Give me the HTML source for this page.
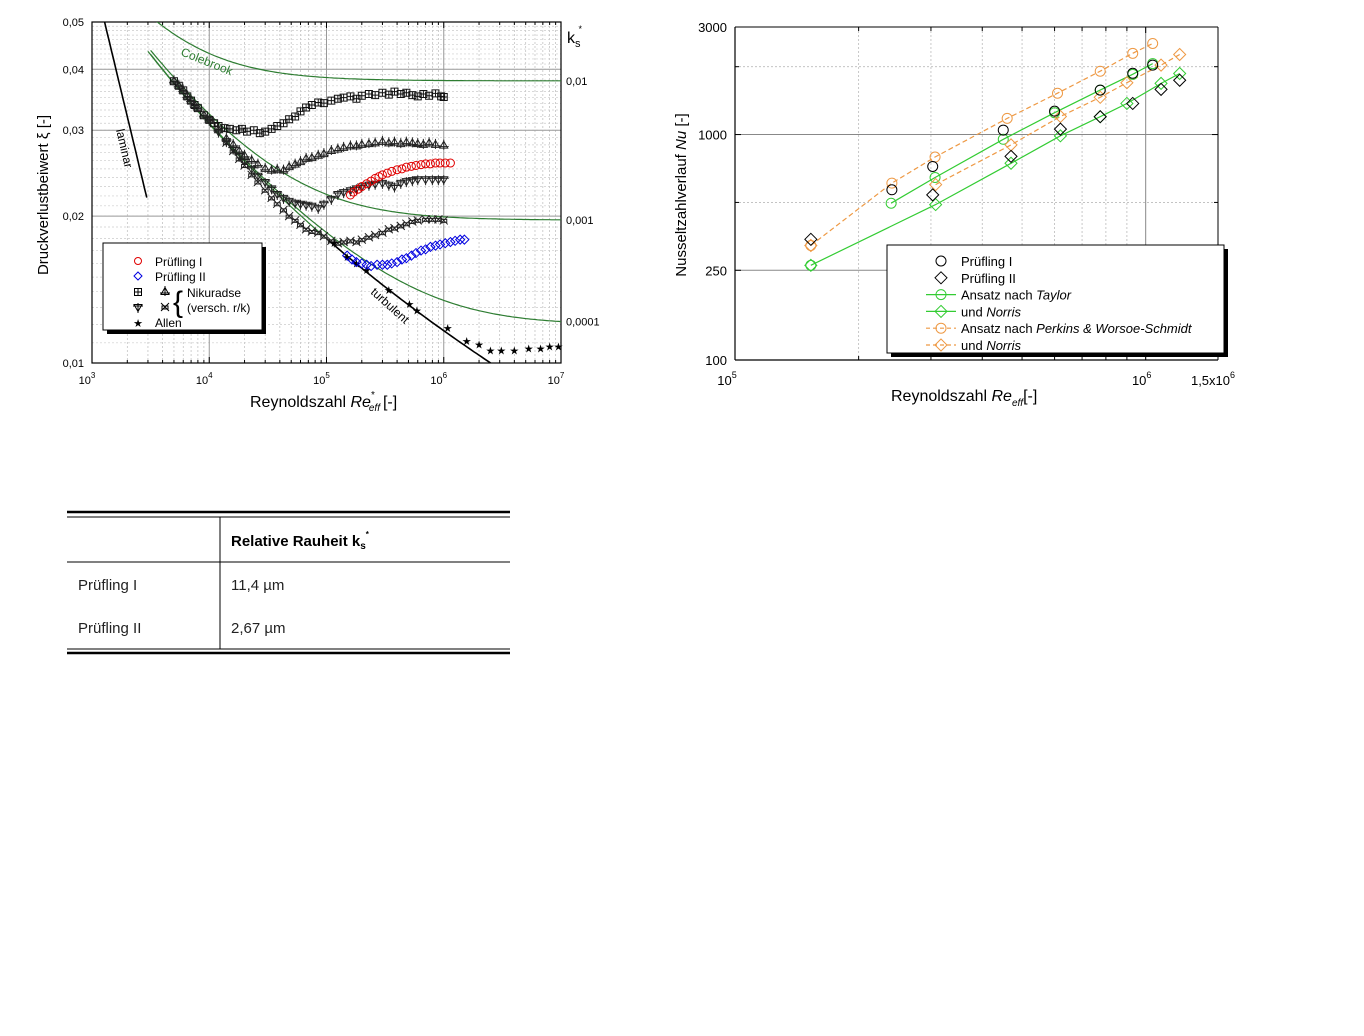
<!DOCTYPE html>
<html><head><meta charset="utf-8"><style>
html,body{margin:0;padding:0;background:#fff;}
svg{display:block;font-family:"Liberation Sans",Arial,sans-serif;}
</style></head><body>
<svg id="root" width="1364" height="1036" viewBox="0 0 1364 1036" xmlns="http://www.w3.org/2000/svg">
<g id="left"></g>
<g id="right"></g>
<g id="table">
  <line x1="67" y1="512" x2="510" y2="512" stroke="#000" stroke-width="2.5"/>
  <line x1="67" y1="517" x2="510" y2="517" stroke="#000" stroke-width="1"/>
  <line x1="67" y1="562" x2="510" y2="562" stroke="#000" stroke-width="1"/>
  <line x1="220" y1="517" x2="220" y2="649" stroke="#000" stroke-width="1"/>
  <line x1="67" y1="649" x2="510" y2="649" stroke="#000" stroke-width="1"/>
  <line x1="67" y1="653" x2="510" y2="653" stroke="#000" stroke-width="2.5"/>
  <text x="231" y="546" font-size="15" font-weight="bold">Relative Rauheit k<tspan font-size="10" dy="3">s</tspan><tspan font-size="8" dy="-12">*</tspan></text>
  <text x="78" y="590" font-size="15" fill="#222">Prüfling I</text>
  <text x="231" y="590" font-size="15" fill="#222">11,4 µm</text>
  <text x="78" y="633" font-size="15" fill="#222">Prüfling II</text>
  <text x="231" y="633" font-size="15" fill="#222">2,67 µm</text>
</g>
</svg>
<script>
// ===== Left chart data =====
const sqRe=[5e3,5.5e3,6e3,6.5e3,7e3,7.5e3,8e3,9e3,1e4,1.1e4,1.2e4,1.35e4,1.5e4,1.7e4,1.9e4,2.1e4,2.4e4,2.7e4,3e4,3.4e4,3.8e4,4.3e4,4.8e4,5.4e4,6e4,6.7e4,7.5e4,8.5e4,9.5e4,1.1e5,1.25e5,1.4e5,1.6e5,1.8e5,2e5,2.3e5,2.6e5,3e5,3.4e5,3.8e5,4.3e5,4.8e5,5.4e5,6e5,6.7e5,7.5e5,8.5e5,9.5e5,1e6];
const sqXi=[0.0378,0.037,0.0362,0.0352,0.0345,0.0338,0.0333,0.0322,0.0315,0.031,0.0306,0.0303,0.0302,0.030,0.0302,0.0298,0.030,0.0296,0.0298,0.0302,0.0306,0.031,0.0316,0.032,0.0328,0.0334,0.0338,0.0342,0.0341,0.0345,0.0348,0.035,0.0352,0.0348,0.0353,0.0356,0.0354,0.0358,0.0355,0.036,0.0356,0.0358,0.0354,0.0352,0.0356,0.0353,0.0357,0.0352,0.0351];
const upRe=[1e4,1.2e4,1.4e4,1.6e4,1.8e4,2e4,2.3e4,2.6e4,3e4,3.4e4,3.8e4,4.3e4,4.8e4,5.4e4,6e4,6.7e4,7.5e4,8.5e4,9.5e4,1.1e5,1.25e5,1.4e5,1.6e5,1.8e5,2e5,2.3e5,2.6e5,3e5,3.4e5,3.8e5,4.3e5,4.8e5,5.4e5,6e5,6.7e5,7.5e5,8.5e5,1e6];
const upXi=[0.0315,0.030,0.0288,0.028,0.0272,0.0266,0.026,0.0255,0.025,0.0248,0.0249,0.0248,0.0252,0.0255,0.0258,0.0262,0.0263,0.0266,0.0268,0.0272,0.0274,0.0276,0.0278,0.0278,0.028,0.0281,0.0282,0.0284,0.0282,0.0283,0.0281,0.0283,0.0282,0.0281,0.028,0.0282,0.028,0.0279];
const dnRe=[1e4,1.2e4,1.4e4,1.6e4,1.8e4,2e4,2.3e4,2.6e4,3e4,3.4e4,3.8e4,4.3e4,4.8e4,5.4e4,6e4,6.7e4,7.5e4,8.5e4,9.5e4,1.1e5,1.25e5,1.4e5,1.6e5,1.8e5,2e5,2.3e5,2.6e5,3e5,3.4e5,3.8e5,4.3e5,4.8e5,5.4e5,6e5,7e5,8e5,9e5,1e6];
const dnXi=[0.0315,0.0298,0.0285,0.0275,0.0266,0.026,0.025,0.0242,0.0235,0.0228,0.0222,0.0218,0.0215,0.0213,0.0212,0.0211,0.021,0.0208,0.0212,0.0217,0.0222,0.0224,0.0226,0.0228,0.023,0.0232,0.0233,0.0234,0.0232,0.023,0.0234,0.0236,0.0237,0.0238,0.0238,0.0238,0.0238,0.0238];
const xsRe=[1.4e4,1.6e4,1.8e4,2e4,2.3e4,2.6e4,3e4,3.4e4,3.8e4,4.3e4,4.8e4,5.4e4,6e4,6.7e4,7.5e4,8.5e4,9.5e4,1.1e5,1.25e5,1.4e5,1.6e5,1.8e5,2e5,2.3e5,2.6e5,3e5,3.4e5,3.8e5,4.3e5,4.8e5,5.4e5,6e5,7e5,8e5,9e5,1e6];
const xsXi=[0.0283,0.0272,0.0262,0.0254,0.0243,0.0235,0.0226,0.0218,0.0212,0.0206,0.02,0.0196,0.0192,0.0188,0.0186,0.0185,0.0182,0.0178,0.0176,0.0177,0.0178,0.0177,0.0179,0.0181,0.0183,0.0185,0.0188,0.0189,0.0191,0.0193,0.0195,0.0196,0.0197,0.0197,0.0197,0.0196];
const alRe=[1.16e5,1.5e5,1.8e5,2.2e5,3.4e5,5.1e5,5.9e5,1.08e6,1.57e6,2.0e6,2.5e6,3.1e6,4e6,5.3e6,6.7e6,8e6,9.5e6];
const alXi=[0.0176,0.0165,0.016,0.0155,0.0141,0.0132,0.0128,0.0118,0.0111,0.0109,0.0106,0.0106,0.0106,0.0107,0.0107,0.0108,0.0108];
const p1Re=[1.6e5,1.7e5,1.85e5,2e5,2.2e5,2.4e5,2.6e5,2.8e5,3e5,3.3e5,3.6e5,4e5,4.4e5,4.8e5,5.3e5,5.8e5,6.4e5,7e5,7.7e5,8.5e5,9.3e5,1.03e6,1.14e6];
const p1Xi=[0.0221,0.0224,0.0227,0.023,0.0233,0.0236,0.0239,0.0241,0.0243,0.0245,0.0247,0.0249,0.025,0.0252,0.0253,0.0254,0.0255,0.0256,0.0256,0.0257,0.0257,0.0257,0.0257];
const p2Re=[1.5e5,1.65e5,1.8e5,2e5,2.2e5,2.4e5,2.7e5,3e5,3.3e5,3.6e5,4e5,4.4e5,4.8e5,5.3e5,5.8e5,6.4e5,7e5,7.7e5,8.5e5,9.3e5,1.03e6,1.14e6,1.25e6,1.38e6,1.5e6];
const p2Xi=[0.0166,0.0163,0.0161,0.016,0.0159,0.0158,0.0159,0.0159,0.0159,0.016,0.0161,0.0163,0.0164,0.0166,0.0168,0.017,0.0171,0.0173,0.0174,0.0175,0.0176,0.0177,0.0178,0.0179,0.0179];
const ksVals=[0.01,0.001,0.0001];
const ksLabels=["0,01","0,001","0,0001"];
const xTickExp=[3,4,5,6,7];
const yTickVals=[0.01,0.02,0.03,0.04,0.05];
const yTickLabels=["0,01","0,02","0,03","0,04","0,05"];

// ===== Right chart data =====
const tayRe=[1.53e5,2.4e5,3.07e5,4.5e5,6.0e5,7.75e5,9.3e5,1.04e6];
const tayNu=[263,496,645,953,1250,1575,1850,2065];
const norGRe=[1.53e5,3.08e5,4.7e5,6.2e5,7.75e5,9e5,1.09e6,1.21e6];
const norGNu=[263,489,746,987,1200,1374,1687,1866];
const pwsRe=[1.53e5,2.41e5,3.07e5,4.6e5,6.1e5,7.75e5,9.3e5,1.04e6];
const pwsNu=[322,609,795,1180,1525,1910,2293,2535];
const norORe=[1.53e5,3.08e5,4.7e5,6.2e5,7.75e5,9e5,1.09e6,1.21e6];
const norONu=[322,600,900,1203,1463,1698,2032,2265];
const r1Re=[2.41e5,3.03e5,4.5e5,6e5,7.75e5,9.3e5,1.04e6];
const r1Nu=[569,722,1047,1270,1575,1870,2033];
const r2Re=[1.53e5,3.03e5,4.7e5,6.2e5,7.75e5,9.3e5,1.09e6,1.21e6];
const r2Nu=[343,540,800,1057,1200,1374,1586,1741];

const NS="http://www.w3.org/2000/svg";
function mk(tag,attrs,parent){const e=document.createElementNS(NS,tag);for(const k in attrs)e.setAttribute(k,attrs[k]);parent.appendChild(e);return e;}
const L=document.getElementById('left'), R=document.getElementById('right');
const LX0=92,LX1=561,LY0=22,LY1=363;
const lx=re=>LX0+(Math.log10(re)-3)*(LX1-LX0)/4;
const ly=v=>LY1-(Math.log10(v)+2)*(LY1-LY0)/Math.log10(5);
const RX0=735,RX1=1218,RY0=27,RY1=360;
const rx=re=>RX0+(Math.log10(re)-5)*(RX1-RX0)/Math.log10(15);
const ry=v=>RY1-(Math.log10(v)-2)*(RY1-RY0)/Math.log10(30);

// ---- Left grid
for(let d=3;d<7;d++){for(let m=2;m<=9;m++){const x=lx(m*Math.pow(10,d));mk('line',{x1:x,y1:LY0,x2:x,y2:LY1,stroke:'#bbb','stroke-width':0.7,'stroke-dasharray':'2,2'},L);}}
for(let v=0.011;v<0.0495;v+=0.001){const y=ly(v);mk('line',{x1:LX0,y1:y,x2:LX1,y2:y,stroke:'#ccc','stroke-width':0.7,'stroke-dasharray':'2,2'},L);}
xTickExp.forEach(e=>{const x=lx(Math.pow(10,e));const g=mk('line',{x1:x,y1:LY0,x2:x,y2:LY1,stroke:'#999','stroke-width':1},L);


const t=mk('text',{x:x-5,y:384,'font-size':11,'text-anchor':'middle'},L);t.textContent='10';


const s=mk('tspan',{'font-size':8,dy:-6},t);s.textContent=String(e);});
yTickVals.forEach((v,i)=>{const y=ly(v);mk('line',{x1:LX0,y1:y,x2:LX1,y2:y,stroke:'#999','stroke-width':1},L);
const t=mk('text',{x:84,y:y+4,'font-size':11,'text-anchor':'end'},L);t.textContent=yTickLabels[i];

});
mk('rect',{x:LX0,y:LY0,width:LX1-LX0,height:LY1-LY0,fill:'none',stroke:'#000','stroke-width':1.2},L);
for(let d=3;d<7;d++){for(let m=1;m<=9;m++){const x=lx(m*Math.pow(10,d));const h=m==1?6:3;mk('line',{x1:x,y1:LY1,x2:x,y2:LY1-h,stroke:'#000'},L);mk('line',{x1:x,y1:LY0,x2:x,y2:LY0+h,stroke:'#000'},L);}}

// ---- Left curves
function colebrook(re,ks){let lam=0.02;for(let i=0;i<60;i++){const r=-2*Math.log10(ks/3.71+2.51/(re*Math.sqrt(lam)));lam=1/(r*r);}return lam;}
function smooth(re){let lam=0.02;for(let i=0;i<60;i++){const r=2*Math.log10(re*Math.sqrt(lam))-0.8;lam=1/(r*r);}return lam;}
const defs=mk('defs',{},L);const cp=mk('clipPath',{id:'lclip'},defs);mk('rect',{x:LX0,y:LY0,width:LX1-LX0,height:LY1-LY0},cp);
const curves=mk('g',{'clip-path':'url(#lclip)'},L);
ksVals.forEach((ks,i)=>{let d='';for(let e=3.5;e<=7.001;e+=0.02){const re=Math.pow(10,e);const v=colebrook(re,ks);d+=(d?'L':'M')+lx(re).toFixed(1)+','+ly(v).toFixed(1);}
const p=mk('path',{d:d,fill:'none',stroke:'#2e7d32','stroke-width':1.2},curves);


const t=mk('text',{x:566,y:ly(colebrook(1e7,ks))+4,'font-size':11},L);t.textContent=ksLabels[i];

});
{let d='';for(let e=Math.log10(3000);e<=5.0;e+=0.02){const re=Math.pow(10,e);d+=(d?'L':'M')+lx(re).toFixed(1)+','+ly(smooth(re)).toFixed(1);}
const p=mk('path',{d:d,fill:'none',stroke:'#2e7d32','stroke-width':1.2},curves);


let d2='';for(let e=5;e<=6.5;e+=0.02){const re=Math.pow(10,e);d2+=(d2?'L':'M')+lx(re).toFixed(1)+','+ly(smooth(re)).toFixed(1);}
const p2=mk('path',{d:d2,fill:'none',stroke:'#000','stroke-width':1.6},curves);


let d3='';for(let e=Math.log10(1280);e<=Math.log10(3000);e+=0.02){const re=Math.pow(10,e);d3+=(d3?'L':'M')+lx(re).toFixed(1)+','+ly(64/re).toFixed(1);}
const p3=mk('path',{d:d3,fill:'none',stroke:'#000','stroke-width':1.6},curves);

}

function marker(g,type,x,y,col,r){
 if(type==='circle')return mk('circle',{cx:x,cy:y,r:r,fill:'none',stroke:col,'stroke-width':1},g);
 if(type==='diamond')return mk('path',{d:`M${x},${y-r}L${x+r},${y}L${x},${y+r}L${x-r},${y}Z`,fill:'none',stroke:col,'stroke-width':1},g);
 if(type==='square')return mk('path',{d:`M${x-3.5},${y-3.5}h7v7h-7ZM${x},${y-3.5}v7M${x-3.5},${y}h7`,fill:'none',stroke:col,'stroke-width':1},g);
 if(type==='up')return mk('path',{d:`M${x},${y-4.5}L${x+4},${y+2.5}L${x-4},${y+2.5}ZM${x},${y-6}v10M${x-5},${y+1}h10`,fill:'none',stroke:col,'stroke-width':1},g);
 if(type==='down')return mk('path',{d:`M${x},${y+4.5}L${x+4},${y-2.5}L${x-4},${y-2.5}ZM${x},${y+6}v-10M${x-5},${y-1}h10`,fill:'none',stroke:col,'stroke-width':1},g);
 if(type==='xs')return mk('path',{d:`M${x-4},${y-4}L${x+4},${y+4}M${x+4},${y-4}L${x-4},${y+4}M${x-3},${y-1}h6v3h-6Z`,fill:'none',stroke:col,'stroke-width':1},g);
 if(type==='star')return mk('text',{x:x,y:y+4,'font-size':11,'text-anchor':'middle',fill:col},g);
}
function series(parent,name,type,xs,ys,fx,fy,col,r){const g=mk('g',{},parent);


xs.forEach((re,i)=>{const m=marker(g,type,fx(re),fy(ys[i]),col,r);if(type==='star')m.textContent='★';

});return g;}
series(L,'nikuradse-squares','square',sqRe,sqXi,lx,ly,'#111',4);
series(L,'nikuradse-up-triangles','up',sqRe.slice(0,8),sqXi.slice(0,8),lx,ly,'#222',4);
series(L,'nikuradse-up-triangles-2','up',upRe,upXi,lx,ly,'#222',4);
series(L,'nikuradse-down-triangles','down',dnRe,dnXi,lx,ly,'#222',4);
series(L,'nikuradse-x-markers','xs',xsRe,xsXi,lx,ly,'#222',4);
series(L,'allen-stars','star',alRe,alXi,lx,ly,'#000',4);
series(L,'pruefling-1-friction','circle',p1Re,p1Xi,lx,ly,'#e00000',4);
series(L,'pruefling-2-friction','diamond',p2Re,p2Xi,lx,ly,'#0000e0',4.5);

function txt(p,x,y,s,attrs,name){const t=mk('text',Object.assign({x:x,y:y},attrs),p);t.textContent=s;

return t;}
txt(L,180,55,'Colebrook',{'font-size':12,fill:'#2e7d32',transform:'rotate(22 180 55)'},'colebrook-label');
txt(L,116,130,'laminar',{'font-size':12,transform:'rotate(77 116 130)'},'laminar-label');
txt(L,370,293,'turbulent',{'font-size':12,transform:'rotate(42 370 293)'},'turbulent-label');
{const t=txt(L,567,43,'k',{'font-size':16},'ks-axis-title');const s1=mk('tspan',{'font-size':11,dy:4},t);s1.textContent='s';const s2=mk('tspan',{'font-size':9,dy:-15,dx:-2},t);s2.textContent='*';}
txt(L,0,0,'Druckverlustbeiwert ξ [-]',{'font-size':15,'text-anchor':'middle',transform:'translate(48,195) rotate(-90)'},'y-axis-title');
{const t=txt(L,250,407,'Reynoldszahl ',{'font-size':16},'x-axis-title');const a=mk('tspan',{'font-style':'italic'},t);a.textContent='Re';const b=mk('tspan',{'font-size':10,dy:-9},t);b.textContent='*';const c=mk('tspan',{'font-size':10,dy:13,dx:-6,'font-style':'italic'},t);c.textContent='eff';const d=mk('tspan',{'font-size':16,dy:-4,dx:3},t);d.textContent='[-]';}

{const g=mk('g',{},L);


mk('rect',{x:107,y:247,width:159,height:87,fill:'#000'},g);
mk('rect',{x:103,y:243,width:159,height:87,fill:'#fff',stroke:'#000','stroke-width':1},g);
marker(g,'circle',138,261,'#e00000',3.5);txt(g,155,266,'Prüfling I',{'font-size':12},'legend-pruefling-1');
marker(g,'diamond',138,276,'#0000e0',4);txt(g,155,281,'Prüfling II',{'font-size':12},'legend-pruefling-2');
marker(g,'square',138,292,'#000',4);marker(g,'up',165,292,'#000',4);
marker(g,'down',138,307,'#000',4);marker(g,'xs',165,307,'#000',4);
txt(g,173,312,'{',{'font-size':30},'legend-brace');
txt(g,187,297,'Nikuradse',{'font-size':12},'legend-nikuradse');
txt(g,187,312,'(versch. r/k)',{'font-size':12},'legend-nikuradse-note');
txt(g,138,327,'★',{'font-size':11,'text-anchor':'middle'},'legend-allen-marker');
txt(g,155,327,'Allen',{'font-size':12},'legend-allen');}

// ---- Right chart grid
for(let m=2;m<=9;m++){const x=rx(m*1e5);mk('line',{x1:x,y1:RY0,x2:x,y2:RY1,stroke:'#bbb','stroke-width':0.8,'stroke-dasharray':'2,2'},R);}
mk('line',{x1:rx(1e6),y1:RY0,x2:rx(1e6),y2:RY1,stroke:'#888','stroke-width':1},R);
[500,2000].forEach(v=>mk('line',{x1:RX0,y1:ry(v),x2:RX1,y2:ry(v),stroke:'#bbb','stroke-width':0.8,'stroke-dasharray':'2,2'},R));
[250,1000].forEach(v=>mk('line',{x1:RX0,y1:ry(v),x2:RX1,y2:ry(v),stroke:'#888','stroke-width':1},R));
mk('line',{x1:RX0,y1:RY0,x2:RX1,y2:RY0,stroke:'#000','stroke-width':1},R);
mk('line',{x1:RX0,y1:RY0,x2:RX0,y2:RY1,stroke:'#000','stroke-width':1.2},R);
mk('line',{x1:RX0,y1:RY1,x2:RX1,y2:RY1,stroke:'#000','stroke-width':1.2},R);
mk('line',{x1:RX1,y1:RY0,x2:RX1,y2:RY1,stroke:'#000','stroke-width':1},R);
const rYT=[100,250,1000,3000], rYL=["100","250","1000","3000"];
rYT.forEach((v,i)=>{mk('line',{x1:RX0,y1:ry(v),x2:RX0+6,y2:ry(v),stroke:'#000'},R);mk('line',{x1:RX1,y1:ry(v),x2:RX1-6,y2:ry(v),stroke:'#000'},R);
txt(R,727,ry(v)+5,rYL[i],{'font-size':13,'text-anchor':'end'},'nu-tick-label');});
[500,2000].forEach(v=>{mk('line',{x1:RX0,y1:ry(v),x2:RX0+4,y2:ry(v),stroke:'#000'},R);mk('line',{x1:RX1,y1:ry(v),x2:RX1-4,y2:ry(v),stroke:'#000'},R);});
for(let m=1;m<=15;m++){const re=m<10?m*1e5:(m-9)*1e6;if(re>1.5e6)break;const x=rx(re);const h=(m==1||m==10)?6:4;mk('line',{x1:x,y1:RY1,x2:x,y2:RY1-h,stroke:'#000'},R);mk('line',{x1:x,y1:RY0,x2:x,y2:RY0+h,stroke:'#000'},R);}
{const t=txt(R,rx(1e5)-8,385,'10',{'font-size':13,'text-anchor':'middle'},'re-tick-label');const s=mk('tspan',{'font-size':9,dy:-7},t);s.textContent='5';}
{const t=txt(R,rx(1e6)-4,385,'10',{'font-size':13,'text-anchor':'middle'},'re-tick-label');const s=mk('tspan',{'font-size':9,dy:-7},t);s.textContent='6';}
{const t=txt(R,rx(1.5e6)-5,385,'1,5x10',{'font-size':13,'text-anchor':'middle'},'re-tick-label');const s=mk('tspan',{'font-size':9,dy:-7},t);s.textContent='6';}
{const t=txt(R,0,0,'Nusseltzahlverlauf ',{'font-size':15,'text-anchor':'middle',transform:'translate(686,195) rotate(-90)'},'nu-axis-title');const a=mk('tspan',{'font-style':'italic'},t);a.textContent='Nu';const b=mk('tspan',{},t);b.textContent=' [-]';}
{const t=txt(R,891,401,'Reynoldszahl ',{'font-size':16},'re-axis-title');const a=mk('tspan',{'font-style':'italic'},t);a.textContent='Re';const c=mk('tspan',{'font-size':10,dy:5,'font-style':'italic'},t);c.textContent='eff';const d=mk('tspan',{'font-size':16,dy:-5},t);d.textContent='[-]';}

function line(parent,name,xs,ys,col,dash){let d='';xs.forEach((re,i)=>{d+=(i?'L':'M')+rx(re).toFixed(1)+','+ry(ys[i]).toFixed(1);});
const p=mk('path',{d:d,fill:'none',stroke:col,'stroke-width':1.2,'stroke-dasharray':dash||'none'},parent);

}
const GRN='#33cc33', ORG='#ee9944';
line(R,'taylor-line',tayRe.slice(1),tayNu.slice(1),GRN);
line(R,'norris-green-line',norGRe,norGNu,GRN);
line(R,'pws-line',pwsRe,pwsNu,ORG,'5,3');
line(R,'norris-orange-line',norORe.slice(1),norONu.slice(1),ORG,'5,3');
series(R,'taylor-points','circle',tayRe,tayNu,rx,ry,GRN,5);
series(R,'norris-green-points','diamond',norGRe,norGNu,rx,ry,GRN,6);
series(R,'pws-points','circle',pwsRe,pwsNu,rx,ry,ORG,5);
series(R,'norris-orange-points','diamond',norORe,norONu,rx,ry,ORG,6);
series(R,'pruefling-1-nu','circle',r1Re,r1Nu,rx,ry,'#000',5);
series(R,'pruefling-2-nu','diamond',r2Re,r2Nu,rx,ry,'#000',6);

{const g=mk('g',{},R);


mk('rect',{x:891,y:249,width:337,height:108,fill:'#000'},g);
mk('rect',{x:887,y:245,width:337,height:108,fill:'#fff',stroke:'#000','stroke-width':1},g);
const rows=[['circle','#000',null,'Prüfling I',''],['diamond','#000',null,'Prüfling II',''],['circle',GRN,'none','Ansatz nach ','Taylor'],['diamond',GRN,'none','und ','Norris'],['circle',ORG,'4,3','Ansatz nach ','Perkins & Worsoe-Schmidt'],['diamond',ORG,'4,3','und ','Norris']];
rows.forEach((r,i)=>{const y=261+i*16.8;
if(r[2]){mk('line',{x1:926,y1:y,x2:956,y2:y,stroke:r[1],'stroke-width':1.2,'stroke-dasharray':r[2]},g);}
marker(g,r[0],941,y,r[1],r[0]==='circle'?5:6);
const t=txt(g,961,y+5,r[3],{'font-size':13},'legend-entry');
if(r[4]){const s=mk('tspan',{'font-style':'italic'},t);s.textContent=r[4];}});}
</script>
</body></html>
